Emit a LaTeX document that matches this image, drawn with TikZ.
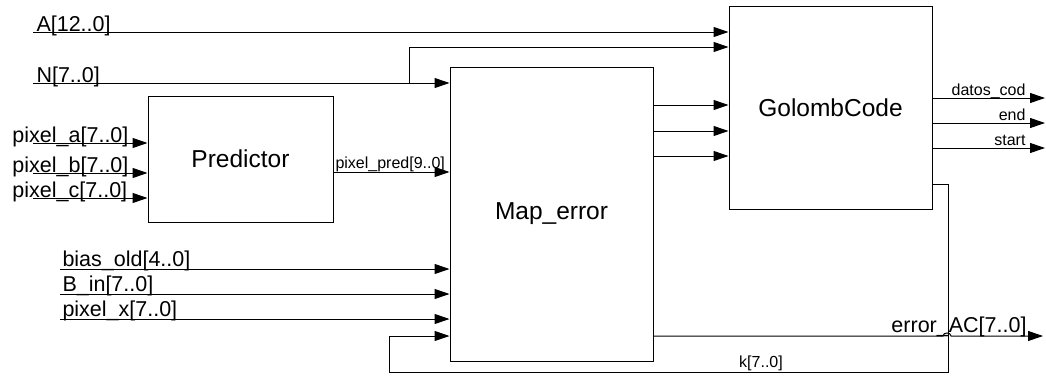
\documentclass[tikz,border=0pt]{standalone}
\usepackage{fontspec}
\setmainfont{Liberation Sans}
\usetikzlibrary{arrows.meta}

\begin{document}
\begin{tikzpicture}[x=1pt, y=-1pt, line width=1pt,
  block/.style={draw, minimum width=203pt, minimum height=203pt, inner sep=0pt, font=\fontsize{24.5}{28}\selectfont},
  sig/.style={-{Triangle[length=15pt, width=10pt]}},
  lbl/.style={anchor=base west, inner sep=0pt, font=\fontsize{21.5}{24}\selectfont},
  slbl/.style={inner sep=0pt, font=\fontsize{16}{18}\selectfont}]
  \useasboundingbox (0,0) rectangle (1046,375);

  \node[block, minimum width=185pt, minimum height=126pt] (pred) at (240.5,159) {Predictor};
  \node[block, minimum height=294pt] (maperr) at (551.5,214) {Map\_error};
  \node[block] (golomb) at (830.5,107.5) {GolombCode};

  % top inputs
  \coordinate (aIn) at (33,32);
  \coordinate (nIn) at (33,83);
  \coordinate (nTap) at (379,83);
  \draw[sig] (aIn) -- (aIn -| golomb.west);
  \draw[sig] (nIn) -- (nIn -| maperr.west);
  \draw[sig] (nTap) -- (409,83) |- (golomb.west |- 0,47);
  \node[lbl] (aLbl) at (36,31) {A[12..0]};
  \node[lbl] (nLbl) at (36,82) {N[7..0]};

  % predictor
  \foreach \nm/\y in {a/143, b/173, c/198} {
    \coordinate (in\nm) at (33,\y);
    \draw[sig] (in\nm) -- (in\nm -| pred.west);
    \node[lbl] (lbl\nm) at (12,\y-1) {pixel\_\nm[7..0]};
  }
  \draw[sig] (pred.east |- 0,172) -- (maperr.west |- 0,172);
  \node[slbl, anchor=base west] (predLbl) at (335,168) {pixel\_pred[9..0]};

  \foreach \nm/\txt/\y in {bias/{bias\_old[4..0]}/269, bin/{B\_in[7..0]}/294, pxx/{pixel\_x[7..0]}/319} {
    \coordinate (in\nm) at (60,\y);
    \draw[sig] (in\nm) -- (in\nm -| maperr.west);
    \node[lbl] (lbl\nm) at (62,\y-3) {\txt};
  }

  \foreach \y in {105,131,156}
    \draw[sig] (maperr.east |- 0,\y) -- (golomb.west |- 0,\y);

  % outputs
  \foreach \nm/\txt/\y in {dc/datos\_cod/98, en/end/123, st/start/148} {
    \coordinate (out\nm) at (1045,\y);
    \draw[sig] (golomb.east |- out\nm) -- (out\nm);
    \node[slbl, anchor=base east] (lbl\nm) at (1026,\y-3) {\txt};
  }

  \coordinate (errOut) at (1043,336);
  \coordinate (hop) at (948,336);
  \draw[sig] (maperr.east |- errOut) -- ([xshift=-5pt]hop) .. controls +(0,-4) and +(0,-4) .. ([xshift=3pt]hop) -- (errOut);
  \node[lbl, anchor=base east] (errLbl) at (1027,332) {error\_AC[7..0]};

  % k feedback
  \coordinate (kTurn) at (948,372);
  \coordinate (kBack) at (389,336);
  \draw[sig] (golomb.east |- 0,184) -| (kTurn) -| (kBack) -- (maperr.west |- kBack);
  \node[slbl] (kLbl) at (761,363) {k[7..0]};
\end{tikzpicture}
\end{document}
